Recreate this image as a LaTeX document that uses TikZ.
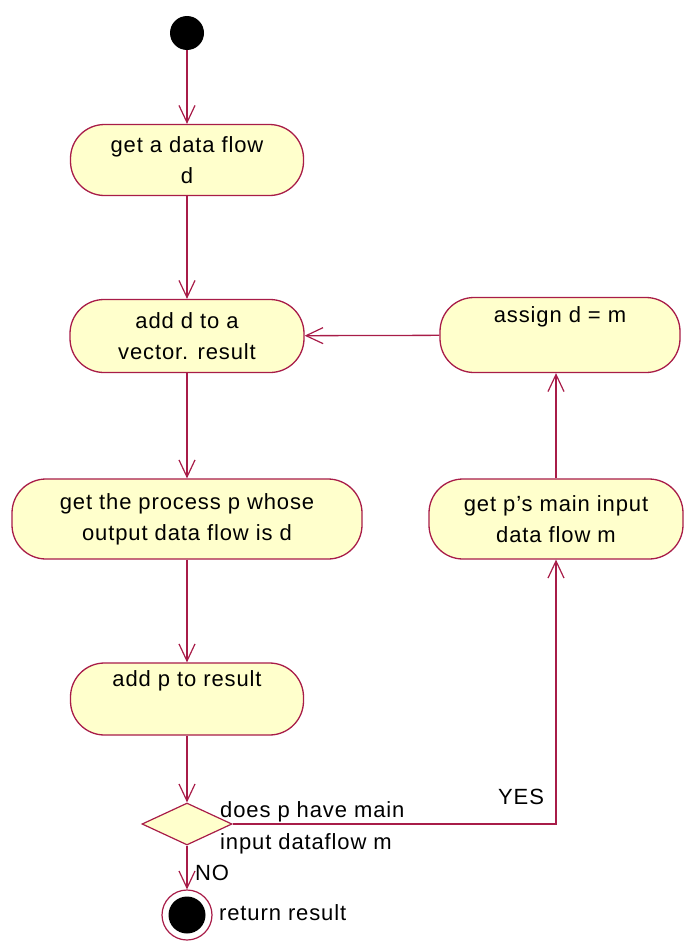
\documentclass[tikz,border=0pt]{standalone}
\usepackage{fontspec}
\setmainfont{Liberation Sans}[LetterSpace=4]
\usetikzlibrary{arrows.meta,shapes.geometric}
\definecolor{edge}{RGB}{168,28,72}
\definecolor{actfill}{RGB}{255,255,204}
\tikzset{
  activity/.style={draw=edge, fill=actfill, line width=1.3pt, rounded corners=34pt,
    align=center, inner sep=0pt, font=\fontsize{22}{31}\selectfont},
  flow/.style={draw=edge, line width=1.3pt, -{Straight Barb[length=17pt,width=16pt,line width=1.2pt]}},
  txt/.style={font=\fontsize{22}{31}\selectfont, inner sep=0pt, anchor=west},
}
\begin{document}
\begin{tikzpicture}[x=1pt,y=-1pt]
\useasboundingbox (0,0) rectangle (683,945);
% start state
\node[circle, fill=black, minimum size=34pt, inner sep=0pt] (start) at (187,33) {};
% activities
\node[activity, minimum width=233pt, minimum height=71pt] (getflow) at (187,160) {get a data flow\\d};
\node[activity, minimum width=234pt, minimum height=73pt] (addd) at (187,336) {add d to a\\vector. result};
\node[activity, minimum width=240pt, minimum height=75pt] (assign) at (560,335) {assign d = m\\\strut};
\node[activity, minimum width=350pt, minimum height=80pt] (getproc) at (187,519) {get the process p whose\\output data flow is d};
\node[activity, minimum width=254pt, minimum height=80pt] (getin) at (556,519) {get p's main input\\data flow m};
\node[activity, minimum width=233pt, minimum height=72pt] (addp) at (187,699) {add p to result\\\strut};
% decision
\node[diamond, draw=edge, fill=actfill, line width=1.2pt, minimum width=90pt, minimum height=42pt, inner sep=0pt] (dec) at (187,824) {};
% final state
\node[circle, draw=edge, fill=white, line width=1.2pt, minimum size=50pt, inner sep=0pt] (final) at (187,915) {};
\node[circle, fill=black, minimum size=37pt, inner sep=0pt] (finaldot) at (final.center) {};
% labels
\node[txt] (q1) at (220,812) {does p have main};
\node[txt] (q2) at (220,844) {input dataflow m};
\node[txt] (yes) at (498,797) {YES};
\node[txt] (no) at (195,873) {NO};
\node[txt] (ret) at (219,913) {return result};
% transitions
\draw[flow] (start) -- (getflow);
\draw[flow] (getflow) -- (addd);
\draw[flow] (addd) -- (getproc);
\draw[flow] (getproc) -- (addp);
\draw[flow] (addp) -- (dec);
\draw[flow] (dec) -- (final);
\draw[flow] (dec.east) -| (getin.south);
\draw[flow] (getin.north) -- (getin.north |- assign.south);
\draw[flow] (assign) -- (addd);
\end{tikzpicture}
\end{document}
